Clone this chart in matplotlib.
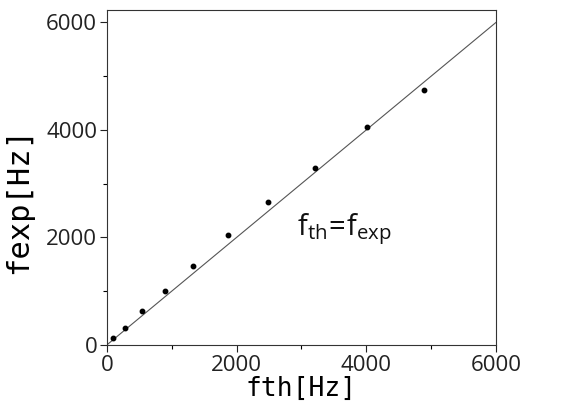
import matplotlib
matplotlib.use("Agg")
import matplotlib.pyplot as plt
from matplotlib.ticker import MultipleLocator

# measured points
fth = [93, 272, 540, 889, 1332, 1866, 2488, 3203, 4005, 4890]
fexp = [124, 316, 625, 1009, 1474, 2037, 2650, 3294, 4050, 4743]
ideal = [0, 6000]

plt.rcParams['font.family'] = ['Open Sans', 'DejaVu Sans']
plt.rcParams['mathtext.fontset'] = 'custom'
plt.rcParams['mathtext.rm'] = 'Open Sans'
plt.rcParams['mathtext.it'] = 'Open Sans'


def main():
    fig = plt.figure(figsize=(5.63, 4.19), dpi=100)
    ax = fig.add_axes([0.190, 0.177, 0.691, 0.799])

    ax.plot(ideal, ideal, color='#555555', lw=0.8)
    ax.plot(fth, fexp, 'o', color='black', ms=3.2)

    ax.set_xlim(0, 6000)
    ax.set_ylim(0, 6230)
    ax.xaxis.set_major_locator(MultipleLocator(2000))
    ax.xaxis.set_minor_locator(MultipleLocator(1000))
    ax.yaxis.set_major_locator(MultipleLocator(2000))
    ax.yaxis.set_minor_locator(MultipleLocator(1000))
    ax.tick_params(which='major', direction='out', length=5, width=0.8,
                   labelsize=16, pad=2, colors='#222222')
    ax.tick_params(which='minor', direction='out', length=3, width=0.8)
    for s in ax.spines.values():
        s.set_linewidth(0.8)
        s.set_color('#333333')

    ax.set_xlabel('fth[Hz]', family='DejaVu Sans Mono', fontsize=19,
                  labelpad=0)
    ax.set_ylabel('fexp[Hz]', family='DejaVu Sans Mono', fontsize=22)
    ax.yaxis.set_label_coords(-0.19, 0.43)

    ax.text(2930, 2040, r'$\mathregular{f_{th}\!=\!f_{exp}}$', fontsize=21,
            color='#111111')

    fig.savefig('out.png')


if __name__ == "__main__":
    main()
